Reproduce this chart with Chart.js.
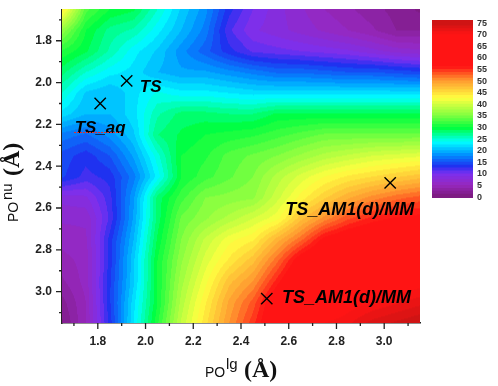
<!DOCTYPE html>
<html>
<head>
<meta charset="utf-8"/>
<title>PO contour map</title>
<script src="https://cdn.jsdelivr.net/npm/chart.js"></script>
<style>
  body { margin: 0; background: #fff; }
  #wrap { position: relative; width: 498px; height: 386px; overflow: hidden; }
  #mapChart { position: absolute; left: 0; top: 0; }
  #barChart { position: absolute; left: 424px; top: 10px; }
</style>
</head>
<body>
<div id="wrap">
<canvas id="mapChart" width="498" height="386"></canvas>
<canvas id="barChart" width="74" height="200"></canvas>
</div>
<script>
  // grid: PO(lg) across, one row per PO(nu), energy in the cells
  const poLg = [1.65,1.75,1.85,1.95,2.05,2.15,2.25,2.35,2.45,2.55,2.65,2.75,2.85,2.95,3.05,3.15];
  const poNu = [1.65,1.75,1.85,1.95,2.05,2.15,2.25,2.35,2.45,2.55,2.65,2.75,2.85,2.95,3.05,3.15];
  const row165 = [44,33,30,29,25,21,18,13,10,8,6.5,5,4,3,2,1];
  const row175 = [36,30,27,26,23,20,17,11.5,9,8,7,6,5,4,2.5,2.5];
  const row185 = [31,29,26,23,21,18,15.5,13,11,10.5,10,9.5,9,8,7,6.5];
  const row195 = [28,25,23,22,20,19,19,18,17,16,16,15.5,15,15,14.5,14];
  const row205 = [25,21,20,22,24,23,23,22.5,22,22,22,22,22,22,22,22];
  const row215 = [22,20,20,22,26,28,28,27.5,27.5,29,29,29,29,29,29,29];
  const row225 = [17,16,18,21,27.5,29,30,30.5,31,32,33,34,34,34,34,34];
  const row235 = [14.5,13,15,19,24.5,30,31,33,34,35,36.5,38,39,40,40.5,41];
  const row245 = [14,12,13,17,23,30,32,33.5,35,38,40.5,42.5,44,45,46,47];
  const row255 = [8,8.5,12,18.5,28,32,35,35.5,36,39.5,43,46,48.5,50.5,52,53];
  const row265 = [6.5,6.5,11.5,19,28,34,36,38,40,42,47,50.5,53.5,55.5,56.5,57];
  const row275 = [5.5,6,13,20,29,35,39,42,43.5,48,52,57,59,60,61,61];
  const row285 = [4.5,5.5,13,21,30,36,40.5,44,47,52,58,61,63,64,65,65];
  const row295 = [3.5,5.5,13.5,21,30,37,42,47,50,55.5,61,64,66,67,68,69];
  const row305 = [2,5,13.5,22,30,38,43.5,49,53,59,64,67,69,70,71,72];
  const row315 = [1,5,13,22.5,31,39,44.5,50,54.5,60,66,70,71,73,74,75];
  const energy = [row165,row175,row185,row195,row205,row215,row225,row235,row245,row255,row265,row275,row285,row295,row305,row315];

  const markerX = [1.81, 1.921, 3.025, 2.508];
  const markerY = [2.10, 1.992, 2.48, 3.033];
  const labelText = ['TS', 'TS_aq', 'TS_AM1(d)/MM', 'TS_AM1(d)/MM'];
  const labelX = [1.976, 1.703, 2.585, 2.572];
  const labelY = [2.025, 2.22, 2.609, 3.03];
  const tickValues = [1.7,1.8,1.9,2.0,2.1,2.2,2.3,2.4,2.5,2.6,2.7,2.8,2.9,3.0,3.1];
  const barTicks = [0,5,10,15,20,25,30,35,40,45,50,55,60,65,70,75];

  // colour ramp of the scale bar
  const rampValue = [0,5,10,13,18,23.5,29.5,35,42.5,50,56,70,75];
  const rampColor = [[122,26,122],[150,40,190],[122,48,240],[32,48,240],[0,144,255],[0,255,255],[0,255,64],[128,255,64],[255,255,64],[255,154,48],[255,20,20],[255,20,20],[200,20,20]];
  const bandStep = 1.25;
  const bandCount = 60;

  function rampAt(v) {
    const b = Math.min(Math.floor(v / bandStep), bandCount - 1) * bandStep + bandStep / 2;
    let i = 0;
    while (i < rampValue.length - 2 && b > rampValue[i + 1]) i++;
    const t = (b - rampValue[i]) / (rampValue[i + 1] - rampValue[i]);
    return rampColor[i].map((c, k) => Math.round(c + (rampColor[i + 1][k] - c) * t));
  }

  function energyAt(x, y) {
    const fx = Math.min(Math.max((x - poLg[0]) / 0.1, 0), 14.999);
    const fy = Math.min(Math.max((y - poNu[0]) / 0.1, 0), 14.999);
    const i = Math.floor(fx), j = Math.floor(fy);
    const u = fx - i, w = fy - j;
    return energy[j][i] * (1 - u) * (1 - w) + energy[j][i + 1] * u * (1 - w) +
           energy[j + 1][i] * (1 - u) * w + energy[j + 1][i + 1] * u * w;
  }

  const contourPlugin = {
    id: 'contour',
    beforeDatasetsDraw(chart) {
      const { ctx, chartArea: a, scales } = chart;
      const w = Math.round(a.right - a.left), h = Math.round(a.bottom - a.top);
      const off = document.createElement('canvas');
      off.width = w; off.height = h;
      const octx = off.getContext('2d');
      const img = octx.createImageData(w, h);
      for (let py = 0; py < h; py++) {
        const yv = scales.y.getValueForPixel(a.top + py + 0.5);
        for (let px = 0; px < w; px++) {
          const xv = scales.x.getValueForPixel(a.left + px + 0.5);
          const c = rampAt(energyAt(xv, yv));
          const k = (py * w + px) * 4;
          img.data[k] = c[0]; img.data[k + 1] = c[1]; img.data[k + 2] = c[2]; img.data[k + 3] = 255;
        }
      }
      octx.putImageData(img, 0, 0);
      ctx.drawImage(off, a.left, a.top);
    }
  };

  function drawPieces(ctx, pieces) {
    pieces.forEach(p => {
      ctx.font = p.font;
      ctx.fillText(p.text, p.at, p.base);
    });
  }

  const overlayPlugin = {
    id: 'overlay',
    afterDraw(chart) {
      const { ctx, chartArea: a, scales } = chart;
      ctx.save();

      // ticks, long on the labelled ones
      ctx.strokeStyle = '#222';
      ctx.lineWidth = 1.3;
      tickValues.forEach(v => {
        const major = Math.round(v * 10) % 2 === 0;
        const len = major ? 6 : 3;
        const px = scales.x.getPixelForValue(v), py = scales.y.getPixelForValue(v);
        ctx.beginPath();
        ctx.moveTo(px, a.bottom); ctx.lineTo(px, a.bottom + len);
        ctx.moveTo(a.left, py); ctx.lineTo(a.left - len, py);
        ctx.stroke();
      });

      // names of the structures
      ctx.fillStyle = '#000';
      ctx.textBaseline = 'middle';
      ctx.textAlign = 'left';
      labelText.forEach((t, i) => {
        ctx.font = 'italic bold ' + (t.length > 5 ? 18 : 17) + 'px "Liberation Sans"';
        ctx.fillText(t, scales.x.getPixelForValue(labelX[i]), scales.y.getPixelForValue(labelY[i]));
      });
      ctx.strokeStyle = '#e03030';
      ctx.lineWidth = 1;
      ctx.setLineDash([2, 1]);
      ctx.beginPath();
      ctx.moveTo(74, 132.5); ctx.lineTo(122, 132.5);
      ctx.stroke();
      ctx.setLineDash([]);

      // axis titles
      ctx.textBaseline = 'alphabetic';
      ctx.fillStyle = '#111';
      drawPieces(ctx, [
        { text: 'PO', at: 205, base: 377, font: '14px "Liberation Sans"' },
        { text: 'lg', at: 226, base: 369, font: '15px "Liberation Sans"' },
        { text: '(Å)', at: 244, base: 377, font: 'bold 24px "Liberation Serif"' }
      ]);
      ctx.translate(18, 222);
      ctx.rotate(-Math.PI / 2);
      drawPieces(ctx, [
        { text: 'PO', at: 0, base: 0, font: '14px "Liberation Sans"' },
        { text: 'nu', at: 22, base: -6, font: '15px "Liberation Sans"' },
        { text: '(Å)', at: 46, base: 1, font: 'bold 24px "Liberation Serif"' }
      ]);
      ctx.restore();
    }
  };

  const tickFont = { family: '"Liberation Sans"', size: 12, weight: 'bold' };
  const labelMajor = v => (Math.round(v * 10) % 2 === 0 ? v.toFixed(1) : '');
  const setTicks = scale => { scale.ticks = tickValues.map(v => ({ value: v })); };

  const gridPoints = [];
  poNu.forEach((y, j) => poLg.forEach((x, i) => gridPoints.push({ x: x, y: y, v: energy[j][i] })));

  new Chart(document.getElementById('mapChart'), {
    type: 'scatter',
    data: {
      datasets: [
        { label: 'energy', data: gridPoints, pointRadius: 0 },
        {
          label: 'structures',
          data: markerX.map((x, i) => ({ x: x, y: markerY[i] })),
          pointStyle: 'crossRot',
          pointRadius: 8,
          borderColor: '#000',
          borderWidth: 1.4
        }
      ]
    },
    options: {
      responsive: false,
      animation: false,
      layout: { padding: { left: 0, top: 6, right: 78, bottom: 0 } },
      plugins: { legend: { display: false }, tooltip: { enabled: false } },
      scales: {
        x: {
          type: 'linear', min: 1.65, max: 3.15,
          grid: { display: false, drawTicks: false },
          border: { display: true, color: '#222', width: 1.5 },
          afterBuildTicks: setTicks,
          afterFit: s => { s.height = 63; s.paddingLeft = 0; s.paddingRight = 0; },
          ticks: { autoSkip: false, maxRotation: 0, padding: 11, color: '#222', font: tickFont, callback: labelMajor }
        },
        y: {
          type: 'linear', min: 1.65, max: 3.15, reverse: true,
          grid: { display: false, drawTicks: false },
          border: { display: true, color: '#222', width: 1.5 },
          afterBuildTicks: setTicks,
          afterFit: s => { s.width = 62; s.paddingTop = 0; s.paddingBottom = 0; },
          ticks: { autoSkip: false, padding: 10, color: '#222', font: tickFont, callback: labelMajor }
        }
      }
    },
    plugins: [contourPlugin, overlayPlugin]
  });

  // scale bar: one floating bar per colour band
  const barMin = -0.4, barMax = 76.3;
  const bands = [];
  for (let i = 0; i < bandCount; i++) bands.push(i * bandStep);

  new Chart(document.getElementById('barChart'), {
    type: 'bar',
    data: {
      labels: ['energy'],
      datasets: bands.map((lo, i) => ({
        data: [[i === 0 ? barMin : lo, i === bandCount - 1 ? barMax : lo + bandStep + 0.05]],
        backgroundColor: 'rgb(' + rampAt(lo + 0.1).join(',') + ')',
        barPercentage: 1,
        categoryPercentage: 1,
        grouped: false
      }))
    },
    options: {
      responsive: false,
      animation: false,
      layout: { padding: { left: 8, top: 10, right: 0, bottom: 12 } },
      plugins: { legend: { display: false }, tooltip: { enabled: false } },
      scales: {
        x: { display: false },
        y: {
          position: 'right', min: barMin, max: barMax,
          grid: { display: false, drawTicks: false },
          border: { display: false },
          afterBuildTicks: s => { s.ticks = barTicks.map(v => ({ value: v })); },
          afterFit: s => { s.width = 25; s.paddingTop = 0; s.paddingBottom = 0; },
          ticks: { autoSkip: false, padding: 4, color: '#333', font: { family: '"Liberation Sans"', size: 9, weight: 'bold' } }
        }
      }
    }
  });
</script>
</body>
</html>
